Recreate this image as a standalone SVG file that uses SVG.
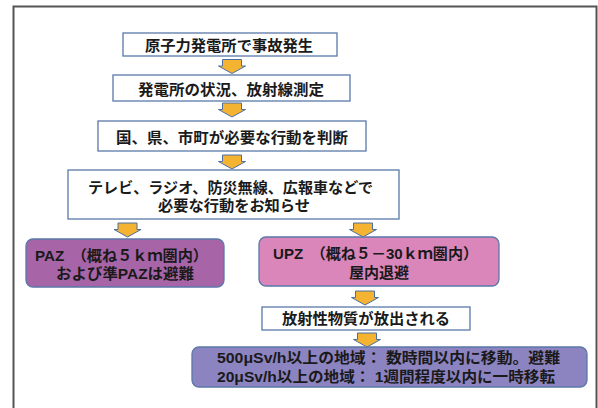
<svg xmlns="http://www.w3.org/2000/svg" width="598" height="408" viewBox="0 0 598 408">
<style>
.frame{fill:#fff;stroke:#555;stroke-width:2}
.box{fill:#fff;stroke:#5a78a8;stroke-width:1.3}
.paz{fill:#a765a8;stroke:#5a78a8;stroke-width:1.3}
.upz{fill:#da86ba;stroke:#5a78a8;stroke-width:1.3}
.dose{fill:#8c83c1;stroke:#5a78a8;stroke-width:1.3}
.arrow{fill:#f5b332;stroke:#4a6fa5;stroke-width:1}
text{font-family:"Liberation Sans","Noto Sans CJK JP","Noto Sans CJK SC",sans-serif;font-size:15px;font-weight:bold;fill:#1a1a1a}
.c{text-anchor:middle}
</style>
<defs>
<path id="dn" d="M-9.5,0 h19 v6.5 h4 L0,14 L-13.5,6.5 h4 Z"/>
</defs>
<rect class="frame" x="13.5" y="6.5" width="583" height="420"/>
<g id="connectors">
<use href="#dn" class="arrow" x="232" y="59.5"/>
<use href="#dn" class="arrow" x="232" y="103"/>
<use href="#dn" class="arrow" x="232" y="155"/>
<use href="#dn" class="arrow" x="127.5" y="223"/>
<use href="#dn" class="arrow" x="363" y="223"/>
<use href="#dn" class="arrow" x="365" y="291"/>
<use href="#dn" class="arrow" x="367" y="333"/>
</g>
<g id="n1">
<rect class="box" x="123" y="33" width="214" height="23"/>
<text class="c" x="229" y="51" textLength="168" lengthAdjust="spacingAndGlyphs">原子力発電所で事故発生</text>
</g>
<g id="n2">
<rect class="box" x="113" y="75" width="237" height="26"/>
<text class="c" x="231" y="94.5" textLength="186" lengthAdjust="spacingAndGlyphs">発電所の状況、放射線測定</text>
</g>
<g id="n3">
<rect class="box" x="98" y="121" width="268" height="30"/>
<text class="c" x="232" y="143" textLength="232" lengthAdjust="spacingAndGlyphs">国、県、市町が必要な行動を判断</text>
</g>
<g id="n4">
<rect class="box" x="68" y="170" width="331" height="49"/>
<text class="c" x="230.5" y="193" textLength="285" lengthAdjust="spacingAndGlyphs">テレビ、ラジオ、防災無線、広報車などで</text>
<text class="c" x="234" y="211" textLength="152" lengthAdjust="spacingAndGlyphs">必要な行動をお知らせ</text>
</g>
<g id="paz">
<rect class="paz" x="26" y="239" width="198" height="48" rx="7"/>
<text x="35" y="260.5" textLength="173" lengthAdjust="spacingAndGlyphs">PAZ　（概ね５ｋｍ圏内）</text>
<text class="c" x="125" y="279" textLength="138" lengthAdjust="spacingAndGlyphs">および準PAZは避難</text>
</g>
<g id="upz">
<rect class="upz" x="259" y="237" width="240" height="49" rx="7"/>
<text x="273" y="258.5" textLength="205" lengthAdjust="spacingAndGlyphs">UPZ　（概ね５－30ｋｍ圏内）</text>
<text class="c" x="379" y="277.5" textLength="60" lengthAdjust="spacingAndGlyphs">屋内退避</text>
</g>
<g id="n5">
<rect class="box" x="262" y="307" width="208" height="23"/>
<text class="c" x="366" y="324" textLength="168" lengthAdjust="spacingAndGlyphs">放射性物質が放出される</text>
</g>
<g id="dose">
<rect class="dose" x="192" y="347" width="395" height="40" rx="7"/>
<text x="217" y="362.5" textLength="343" lengthAdjust="spacingAndGlyphs">500μSv/h以上の地域： 数時間以内に移動。避難</text>
<text x="217" y="381.5" textLength="338" lengthAdjust="spacingAndGlyphs">20μSv/h以上の地域： 1週間程度以内に一時移転</text>
</g>
</svg>
